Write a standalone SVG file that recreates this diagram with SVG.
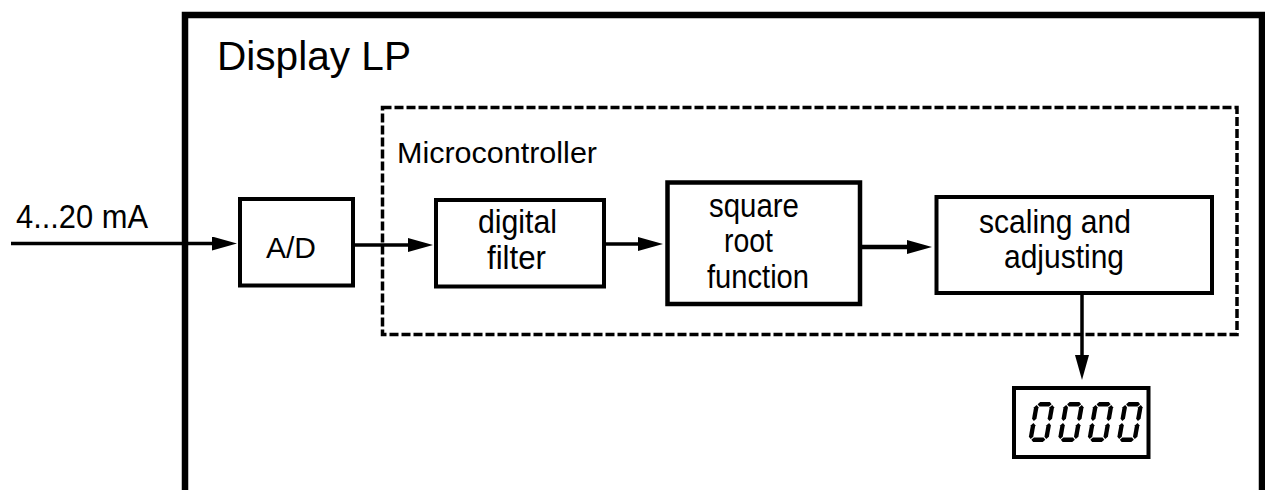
<svg xmlns="http://www.w3.org/2000/svg" width="1265" height="490" viewBox="0 0 1265 490">
<style>
 .frame{fill:none;stroke:#000;stroke-width:6.5}
 .box{fill:#fff;stroke:#000;stroke-width:4}
 .dash{fill:none;stroke:#000;stroke-width:3.5;stroke-dasharray:9 3}
 .t{font-family:"Liberation Sans",Arial,sans-serif;fill:#000}
 .bt{font-size:34px}
 .conn{stroke:#000;stroke-width:3.5;fill:none;marker-end:url(#ah)}
 .seg{fill:#000}
</style>
<defs>
 <marker id="ah" markerUnits="userSpaceOnUse" markerWidth="25" markerHeight="14" viewBox="0 0 25 14" refX="13" refY="7" orient="auto">
  <path d="M0,0 L25,7 L0,14 Z" fill="#000"/>
 </marker>
 <g id="digit0" class="seg">
  <polygon points="3,2.2 5.2,0 14.8,0 17,2.2 14.8,4.4 5.2,4.4"/>
  <polygon points="3,37.8 5.2,35.6 14.8,35.6 17,37.8 14.8,40 5.2,40"/>
  <polygon points="2.2,3 4.4,5.2 4.4,16.8 2.2,19 0,16.8 0,5.2"/>
  <polygon points="2.2,21 4.4,23.2 4.4,34.8 2.2,37 0,34.8 0,23.2"/>
  <polygon points="17.8,3 20,5.2 20,16.8 17.8,19 15.6,16.8 15.6,5.2"/>
  <polygon points="17.8,21 20,23.2 20,34.8 17.8,37 15.6,34.8 15.6,23.2"/>
 </g>
</defs>
<rect width="1265" height="490" fill="#fff"/>

<g id="display-lp">
 <path class="frame" d="M185,490 V15 H1262 V490"/>
 <text class="t" x="217" y="70" font-size="40" textLength="194" lengthAdjust="spacingAndGlyphs">Display LP</text>
</g>

<g id="microcontroller">
 <rect class="dash" x="382.5" y="107.5" width="854.5" height="227"/>
 <text class="t" x="397" y="163" font-size="29.5" textLength="200" lengthAdjust="spacingAndGlyphs">Microcontroller</text>
</g>

<g id="input-label">
 <text class="t" x="16" y="228" font-size="32.5" textLength="132" lengthAdjust="spacingAndGlyphs">4...20 mA</text>
</g>

<g id="ad">
 <rect class="box" x="240" y="199" width="113" height="86.5"/>
 <text class="t" x="266" y="258" font-size="30" textLength="50" lengthAdjust="spacingAndGlyphs">A/D</text>
</g>

<g id="digital-filter">
 <rect class="box" x="436" y="200" width="168" height="86.5"/>
 <text class="t bt" x="478" y="233" textLength="79" lengthAdjust="spacingAndGlyphs">digital</text>
 <text class="t bt" x="487" y="269" textLength="59" lengthAdjust="spacingAndGlyphs">filter</text>
</g>

<g id="square-root">
 <rect class="box" x="667.5" y="182.5" width="192.5" height="121.5" style="stroke-width:4.5"/>
 <text class="t bt" x="709" y="217" textLength="90" lengthAdjust="spacingAndGlyphs">square</text>
 <text class="t bt" x="724" y="252" textLength="49" lengthAdjust="spacingAndGlyphs">root</text>
 <text class="t bt" x="707" y="288" textLength="102" lengthAdjust="spacingAndGlyphs">function</text>
</g>

<g id="scaling">
 <rect class="box" x="936.5" y="197" width="275.5" height="96"/>
 <text class="t bt" x="979" y="233" textLength="152" lengthAdjust="spacingAndGlyphs">scaling and</text>
 <text class="t bt" x="1004" y="268" textLength="120" lengthAdjust="spacingAndGlyphs">adjusting</text>
</g>

<g id="display">
 <rect class="box" x="1014" y="388" width="134.5" height="69"/>
 <use href="#digit0" transform="translate(1035,402) skewX(-10)"/>
 <use href="#digit0" transform="translate(1064.5,402) skewX(-10)"/>
 <use href="#digit0" transform="translate(1094,402) skewX(-10)"/>
 <use href="#digit0" transform="translate(1123.5,402) skewX(-10)"/>
</g>

<g id="connectors">
 <path class="conn" d="M11,243.5 H225"/>
 <path class="conn" d="M355,245 H421"/>
 <path class="conn" d="M606,244 H651"/>
 <path class="conn" d="M862,247 H920" style="stroke-width:4.5"/>
 <path class="conn" d="M1082,295 V368"/>
</g>
</svg>
